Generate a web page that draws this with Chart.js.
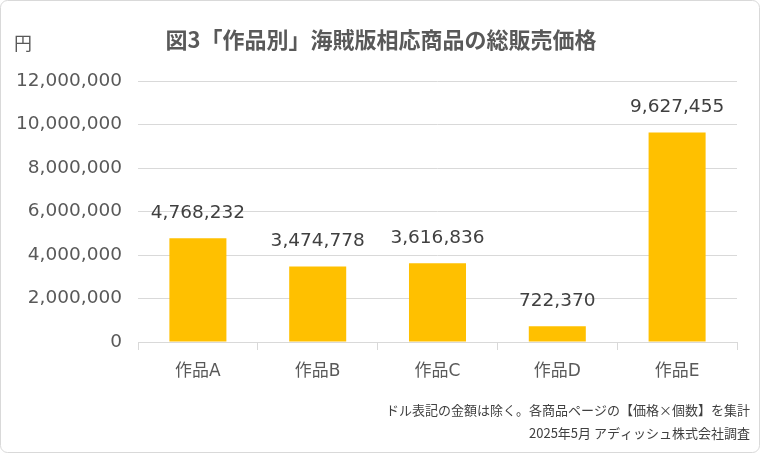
<!DOCTYPE html>
<html>
<head>
<meta charset="utf-8">
<script src="https://cdn.jsdelivr.net/npm/chart.js@4/dist/chart.umd.min.js"></script>
<style>
  html, body { margin: 0; padding: 0; background: #fff; }
  #wrap { width: 760px; height: 453px; position: relative; }
</style>
</head>
<body>
<div id="wrap"><canvas id="chart" width="760" height="453"></canvas></div>
<script>
// データ
const categories = ['作品A', '作品B', '作品C', '作品D', '作品E'];
const totals = [4768232, 3474778, 3616836, 722370, 9627455];
const yTicks = [0, 2000000, 4000000, 6000000, 8000000, 10000000, 12000000];

const titleText = '図3「作品別」海賊版相応商品の総販売価格';
const unitText = '円';
const noteLines = ['ドル表記の金額は除く。各商品ページの【価格×個数】を集計', '2025年5月 アディッシュ株式会社調査'];

const numFont = '"DejaVu Sans", "Noto Sans CJK JP", sans-serif';
const jpFont = '"Noto Sans CJK JP", "DejaVu Sans", sans-serif';
const fmt = v => v.toLocaleString('en-US');

// 枠・タイトル・注記・データラベルを描く
const decorations = {
  id: 'decorations',
  beforeDraw(chart) {
    const ctx = chart.ctx;
    ctx.save();
    ctx.fillStyle = '#fff';
    ctx.fillRect(0, 0, chart.width, chart.height);
    ctx.strokeStyle = '#d9d9d9';
    ctx.lineWidth = 1;
    ctx.beginPath();
    ctx.roundRect(0.5, 0.5, chart.width - 1, chart.height - 1, 7);
    ctx.stroke();
    ctx.restore();
  },
  afterDraw(chart) {
    const ctx = chart.ctx;
    ctx.save();
    ctx.textBaseline = 'middle';

    ctx.fillStyle = '#595959';
    ctx.font = 'bold 22px ' + jpFont;
    ctx.textAlign = 'center';
    ctx.fillText(titleText, 381, 40);

    ctx.font = '18px ' + jpFont;
    ctx.textAlign = 'left';
    ctx.fillText(unitText, 14, 43);

    ctx.fillStyle = '#404040';
    ctx.font = '13px ' + jpFont;
    ctx.textAlign = 'right';
    ctx.fillText(noteLines[0], 750, 410);
    ctx.fillText(noteLines[1], 750, 433);

    // データラベル
    ctx.font = '18.5px ' + numFont;
    ctx.textAlign = 'center';
    const meta = chart.getDatasetMeta(0);
    meta.data.forEach((bar, i) => {
      ctx.fillText(fmt(totals[i]), bar.x, bar.y - 25);
    });
    ctx.restore();
  }
};

new Chart(document.getElementById('chart'), {
  type: 'bar',
  data: {
    labels: categories,
    datasets: [{
      data: totals,
      backgroundColor: '#FFC000',
      categoryPercentage: 1,
      barPercentage: 0.476
    }]
  },
  options: {
    responsive: false,
    animation: false,
    devicePixelRatio: 1,
    layout: { padding: { top: 81, right: 23, bottom: 66, left: 0 } },
    plugins: {
      legend: { display: false },
      tooltip: { enabled: false }
    },
    scales: {
      x: {
        afterFit(scale) { scale.height = 45; },
        grid: {
          offset: true,
          drawOnChartArea: false,
          drawTicks: true,
          tickLength: 8,
          color: '#d9d9d9'
        },
        border: { color: '#d9d9d9' },
        ticks: {
          color: '#595959',
          padding: 11,
          font: { family: numFont, size: 17 }
        }
      },
      y: {
        min: 0,
        max: 12000000,
        afterFit(scale) { scale.width = 138; },
        afterBuildTicks(scale) { scale.ticks = yTicks.map(v => ({ value: v })); },
        grid: { color: '#d9d9d9', drawTicks: false },
        border: { display: false },
        ticks: {
          color: '#595959',
          padding: 16,
          font: { family: numFont, size: 18.5 },
          callback: v => fmt(v)
        }
      }
    }
  },
  plugins: [decorations]
});
</script>
</body>
</html>
